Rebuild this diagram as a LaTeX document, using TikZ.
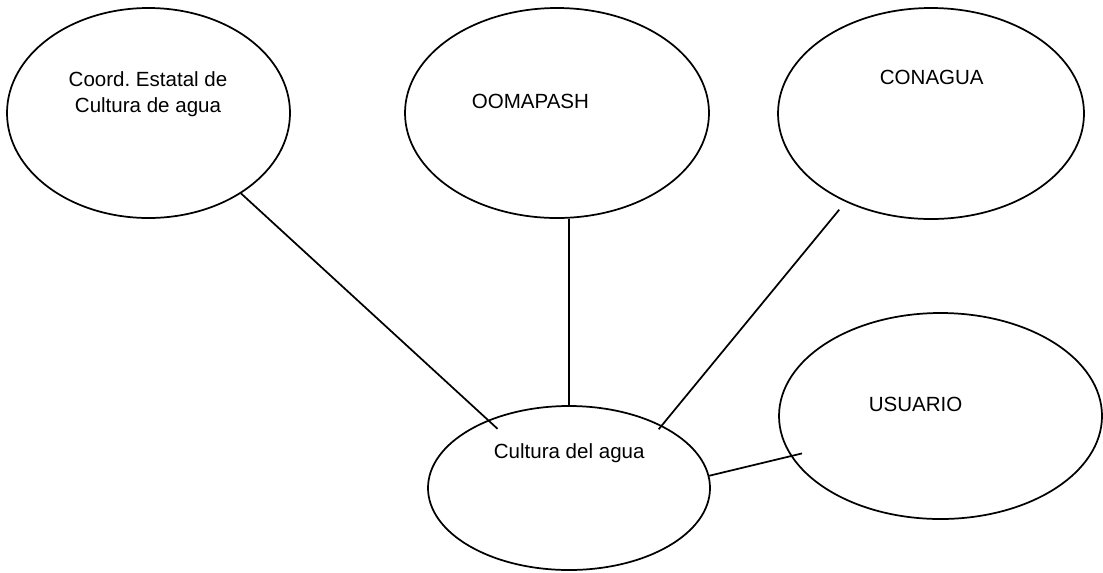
\documentclass[tikz,border=0pt]{standalone}
\usepackage{fontspec}
\setmainfont{Liberation Sans}
\usepackage{tikz}
\usetikzlibrary{shapes,positioning}
\frenchspacing

\begin{document}
\begin{tikzpicture}[x=0.75pt,y=-0.75pt,line width=1.3pt,
    blob/.style={draw,ellipse,inner sep=0pt},
    tag/.style={inner sep=0pt,anchor=base west,font=\fontsize{15.4pt}{19.5pt}\selectfont}]
    \useasboundingbox (0,0) rectangle (1103,572);
    % the five ellipses
    \node[blob,minimum width=212.25pt,minimum height=157.5pt] (coord) at (148.5,113) {};
    \node[blob,minimum width=228pt,minimum height=157.5pt] (oomapash) at (557,113) {};
    \node[blob,minimum width=229.5pt,minimum height=158.25pt] (conagua) at (931,113.5) {};
    \node[blob,minimum width=242.25pt,minimum height=154.5pt] (usuario) at (940.5,416) {};
    \node[blob,minimum width=211.5pt,minimum height=123pt] (cultura) at (569,488) {};
    % texts
    \node[tag,anchor=base,align=center] (coordtxt) at (148,112) {Coord. Estatal de\\Cultura de agua};
    \node[tag] (oomapashtxt) at (471,108) {OOMAPASH};
    \node[tag] (conaguatxt) at (879,84) {CONAGUA};
    \node[tag] (usuariotxt) at (868,411) {USUARIO};
    \node[tag] (culturatxt) at (493,458) {Cultura del agua};
    % links
    \path
        (coord.-41) edge [shorten >=-9.75pt] (cultura.140)
        (cultura.north) edge (cultura.north |- oomapash.south)
        (conagua.-134) edge [shorten <=7.5pt,shorten >=-3.75pt] (cultura.34)
        (cultura.5) edge [shorten >=-8.7pt] (usuario.-165);
\end{tikzpicture}
\end{document}
